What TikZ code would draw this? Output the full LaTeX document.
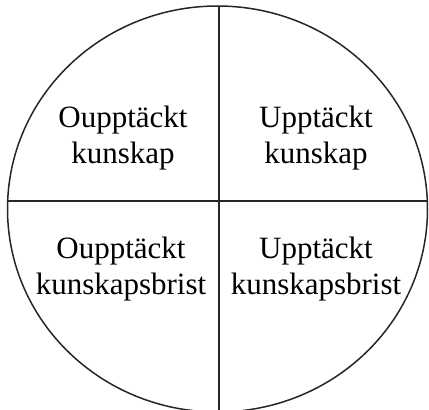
\documentclass[tikz,border=0pt]{standalone}
\usepackage{fontspec}
\setmainfont{Liberation Serif}
\usetikzlibrary{positioning}
\begin{document}
\begin{tikzpicture}[x=1pt,y=-1pt,
  quad/.style={align=center,inner sep=0pt,font=\fontsize{31}{36}\selectfont},
  divider/.style={line width=1.5pt,draw=black!85}]
\useasboundingbox (0,0) rectangle (429,410);
\coordinate (c) at (217.5,209);
\coordinate (top) at (219,6);
\coordinate (bottom) at (219,412);
\coordinate (left) at (7.7,201);
\coordinate (right) at (427.3,201);
\draw[divider] (c) ellipse [x radius=210,y radius=-203];
\draw[divider] (top)--(bottom);
\draw[divider] (left)--(right);
\node[quad] (ok) at (123,138) {Oupptäckt\\kunskap};
\node[quad] (uk) at (316,138) {Upptäckt\\kunskap};
\node[quad] (okb) at (121,269) {Oupptäckt\\kunskapsbrist};
\node[quad] (ukb) at (316,269) {Upptäckt\\kunskapsbrist};
\end{tikzpicture}
\end{document}
